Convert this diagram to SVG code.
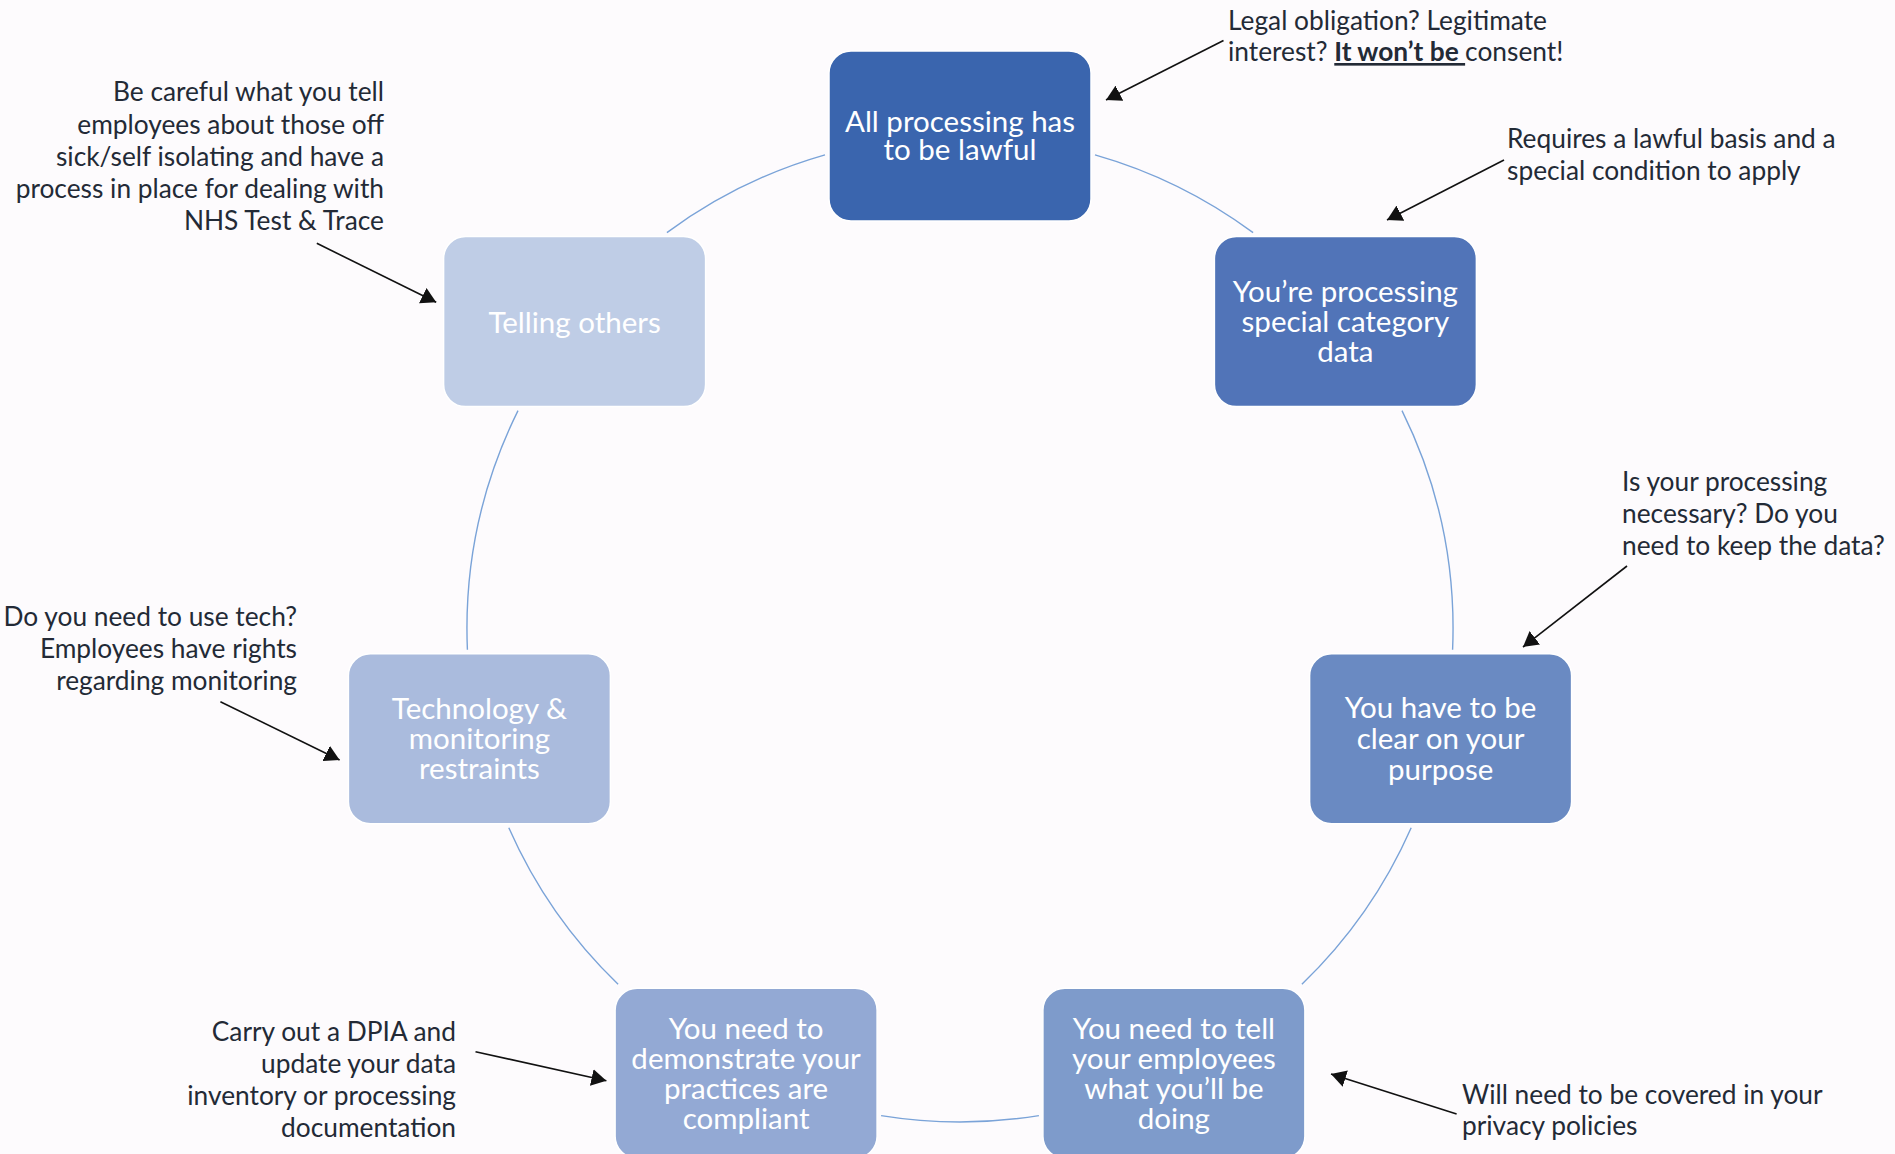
<svg xmlns="http://www.w3.org/2000/svg" width="1895" height="1154" viewBox="0 0 1895 1154">
<defs>
<style>
.node rect{stroke:#ffffff;stroke-width:1.5}
.nt{font-family:Lato,"Liberation Sans",sans-serif;font-size:29.5px;fill:#ffffff;text-anchor:middle}
.at{font-family:Lato,"Liberation Sans",sans-serif;font-size:26.3px;fill:#232a36}
.arc{fill:none;stroke:#7aa3d8;stroke-width:1.4}
.arr{fill:none;stroke:#111111;stroke-width:1.6;marker-end:url(#ah)}
</style>
<marker id="ah" markerUnits="userSpaceOnUse" markerWidth="16" markerHeight="17" refX="15" refY="8.5" orient="auto">
<path d="M0,0 L15,8.5 L0,17 z" fill="#111111"/>
</marker>
</defs>
<rect width="1895" height="1154" fill="#fdfbfd"/>
<g id="connectors">
<path class="arc" d="M1095,154.8 A493,493 0 0 1 1253.1,232.6"/>
<path class="arc" d="M1402,410.6 A493,493 0 0 1 1452.6,649.7"/>
<path class="arc" d="M1411.2,827.7 A493,493 0 0 1 1301.9,984.2"/>
<path class="arc" d="M1038.9,1115.6 A493,493 0 0 1 881.1,1115.6"/>
<path class="arc" d="M618.1,984.2 A493,493 0 0 1 508.8,827.7"/>
<path class="arc" d="M467.4,649.7 A493,493 0 0 1 518,410.6"/>
<path class="arc" d="M666.9,232.6 A493,493 0 0 1 825,154.8"/>
<line class="arr" x1="1223.5" y1="40.5" x2="1106" y2="100"/>
<line class="arr" x1="1504" y1="160" x2="1387" y2="220"/>
<line class="arr" x1="1627" y1="566" x2="1523" y2="647"/>
<line class="arr" x1="1456.6" y1="1114" x2="1331" y2="1074"/>
<line class="arr" x1="475.5" y1="1051.7" x2="606.4" y2="1080.7"/>
<line class="arr" x1="220.4" y1="701.7" x2="339.6" y2="760"/>
<line class="arr" x1="316.8" y1="243.3" x2="436.2" y2="302.3"/>
</g>
<g id="node1" class="node">
<rect x="829" y="51" width="262" height="170" rx="22" fill="#3a65ae"/>
<text class="nt"><tspan x="960" y="131.5">All processing has</tspan><tspan x="960" y="160">to be lawful</tspan></text>
</g>
<g id="node2" class="node">
<rect x="1214.4" y="236.6" width="262" height="170" rx="22" fill="#5174b8"/>
<text class="nt"><tspan x="1345.4" y="301.5">You’re processing</tspan><tspan x="1345.4" y="331.5">special category</tspan><tspan x="1345.4" y="362">data</tspan></text>
</g>
<g id="node3" class="node">
<rect x="1309.6" y="653.7" width="262" height="170" rx="22" fill="#6a8ac2"/>
<text class="nt"><tspan x="1440.6" y="718">You have to be</tspan><tspan x="1440.6" y="748.5">clear on your</tspan><tspan x="1440.6" y="779.5">purpose</tspan></text>
</g>
<g id="node4" class="node">
<rect x="1042.9" y="988.2" width="262" height="170" rx="22" fill="#7e9bcb"/>
<text class="nt"><tspan x="1173.9" y="1039">You need to tell</tspan><tspan x="1173.9" y="1069">your employees</tspan><tspan x="1173.9" y="1099">what you’ll be</tspan><tspan x="1173.9" y="1129">doing</tspan></text>
</g>
<g id="node5" class="node">
<rect x="615.1" y="988.2" width="262" height="170" rx="22" fill="#93a9d4"/>
<text class="nt"><tspan x="746.1" y="1039">You need to</tspan><tspan x="746.1" y="1069">demonstrate your</tspan><tspan x="746.1" y="1099">practices are</tspan><tspan x="746.1" y="1129">compliant</tspan></text>
</g>
<g id="node6" class="node">
<rect x="348.4" y="653.7" width="262" height="170" rx="22" fill="#aabbdd"/>
<text class="nt"><tspan x="479.4" y="718.5">Technology &amp;</tspan><tspan x="479.4" y="748.5">monitoring</tspan><tspan x="479.4" y="779">restraints</tspan></text>
</g>
<g id="node7" class="node">
<rect x="443.6" y="236.6" width="262" height="170" rx="22" fill="#bfcde6"/>
<text class="nt"><tspan x="574.6" y="333">Telling others</tspan></text>
</g>
<g id="notes">
<text class="at"><tspan x="1228" y="30">Legal obligation? Legitimate</tspan><tspan x="1228" y="61">interest? <tspan font-weight="bold" text-decoration="underline">It won’t be </tspan>consent!</tspan></text>
<text class="at"><tspan x="1507" y="148">Requires a lawful basis and a</tspan><tspan x="1507" y="180">special condition to apply</tspan></text>
<text class="at"><tspan x="1622" y="491">Is your processing</tspan><tspan x="1622" y="523">necessary? Do you</tspan><tspan x="1622" y="555">need to keep the data?</tspan></text>
<text class="at"><tspan x="1462" y="1104">Will need to be covered in your</tspan><tspan x="1462" y="1135">privacy policies</tspan></text>
<text class="at" text-anchor="end"><tspan x="456" y="1041">Carry out a DPIA and</tspan><tspan x="456" y="1073">update your data</tspan><tspan x="456" y="1105">inventory or processing</tspan><tspan x="456" y="1137">documentation</tspan></text>
<text class="at" text-anchor="end"><tspan x="297" y="626">Do you need to use tech?</tspan><tspan x="297" y="658">Employees have rights</tspan><tspan x="297" y="690">regarding monitoring</tspan></text>
<text class="at" text-anchor="end"><tspan x="384" y="101">Be careful what you tell</tspan><tspan x="384" y="134">employees about those off</tspan><tspan x="384" y="166">sick/self isolating and have a</tspan><tspan x="384" y="198">process in place for dealing with</tspan><tspan x="384" y="230">NHS Test &amp; Trace</tspan></text>
</g>
</svg>
